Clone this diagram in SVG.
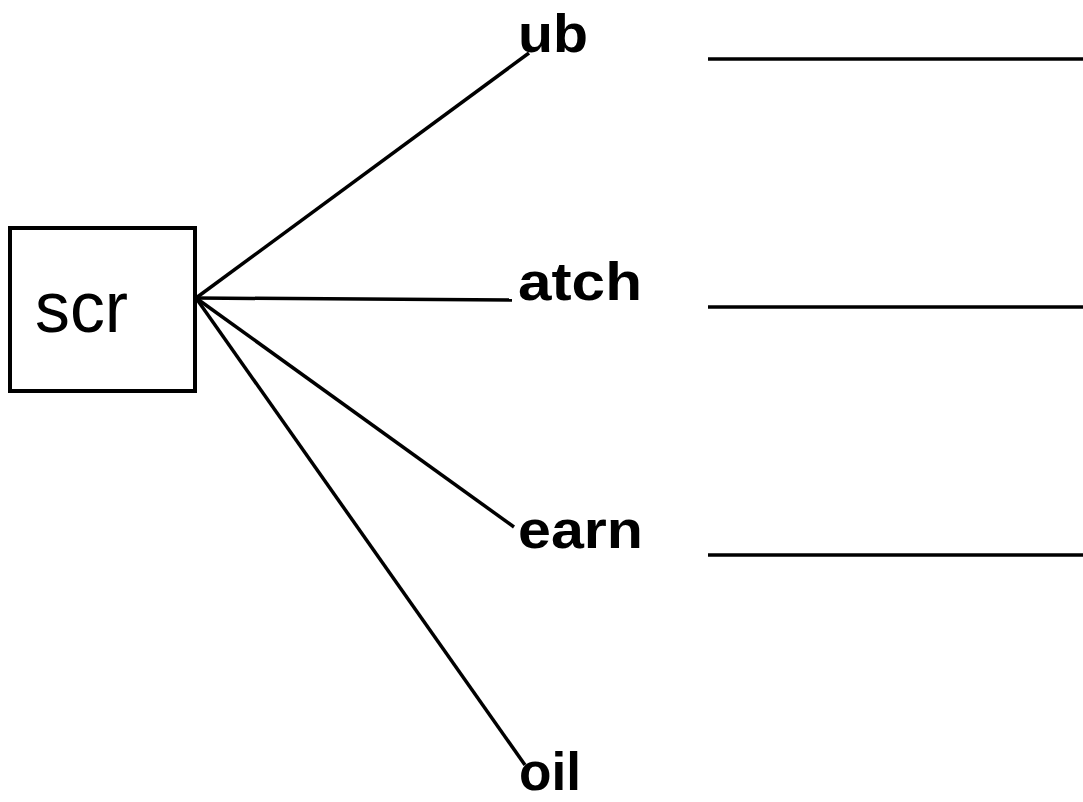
<svg xmlns="http://www.w3.org/2000/svg" width="1083" height="802" viewBox="0 0 1083 802">
<style>
.ln{stroke:#000;stroke-width:3.5;fill:none;stroke-linecap:butt}
.lbl{font-family:"Liberation Sans",Arial,sans-serif;font-weight:bold;font-size:54px;fill:#000}
.box{fill:#fff;stroke:#000;stroke-width:4}
.main{font-family:"Liberation Sans",Arial,sans-serif;font-size:72px;fill:#000}
</style>
<rect width="1083" height="802" fill="#fff"/>
<g id="connectors">
<line class="ln" x1="196" y1="298" x2="529" y2="53"/>
<line class="ln" x1="196" y1="298" x2="512" y2="300"/>
<line class="ln" x1="196" y1="298" x2="514" y2="527"/>
<line class="ln" x1="196" y1="298" x2="525" y2="765"/>
</g>
<g id="node-scr">
<rect class="box" x="10" y="228" width="185" height="163"/>
<text class="main" x="35" y="332" textLength="93" lengthAdjust="spacingAndGlyphs">scr</text>
</g>
<g id="node-ub"><text class="lbl" x="518" y="52" textLength="70" lengthAdjust="spacingAndGlyphs">ub</text></g>
<g id="node-atch"><text class="lbl" x="518" y="300" textLength="124" lengthAdjust="spacingAndGlyphs">atch</text></g>
<g id="node-earn"><text class="lbl" x="518" y="548" textLength="125" lengthAdjust="spacingAndGlyphs">earn</text></g>
<g id="node-oil"><text class="lbl" x="519" y="790" textLength="62" lengthAdjust="spacingAndGlyphs">oil</text></g>
<g id="blanks">
<line class="ln" x1="708" y1="59" x2="1083" y2="59"/>
<line class="ln" x1="708" y1="307" x2="1083" y2="307"/>
<line class="ln" x1="708" y1="555" x2="1083" y2="555"/>
</g>
</svg>
